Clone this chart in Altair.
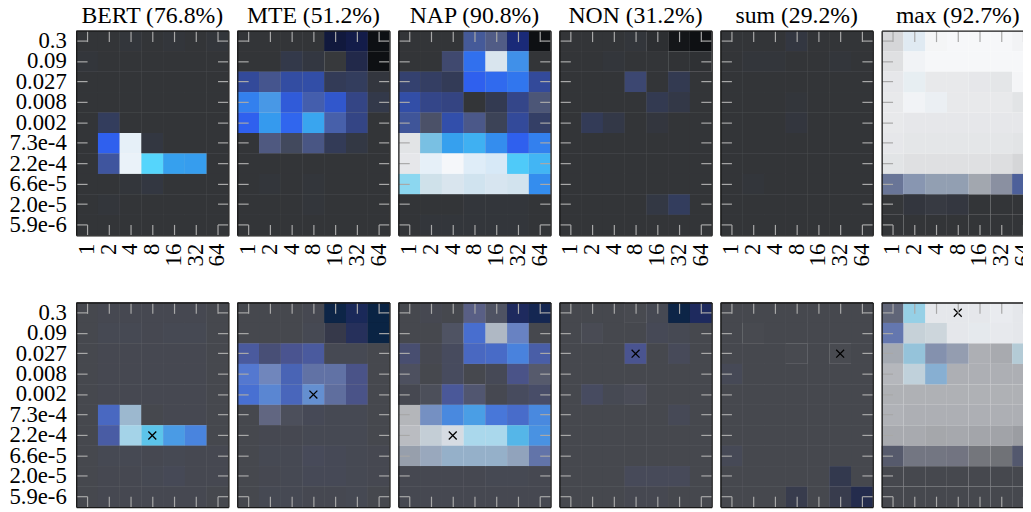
import altair as alt
import pandas as pd

X_LABELS = ["1", "2", "4", "8", "16", "32", "64"]
Y_LABELS = ["0.3", "0.09", "0.027", "0.008", "0.002", "7.3e-4", "2.2e-4", "6.6e-5", "2.0e-5", "5.9e-6"]

TITLES = ["BERT (76.8%)", "MTE (51.2%)", "NAP (90.8%)", "NON (31.2%)", "sum (29.2%)", "max (92.7%)"]

# ---------- top row: value grids (rows 0.3 -> 5.9e-6, cols 1 -> 64) ----------
BERT_T = [
    [0, 0, 0.01, 0, 0.01, 0, 0.01],
    [0.01, 0, 0, 0, 0, 0, 0],
    [0, 0, 0, 0, 0, 0, 0],
    [0, 0, 0, 0, 0, 0, 0],
    [0, 0.12, 0, 0, 0, 0, 0],
    [0, 0.5, 0.96, 0.03, 0, 0, 0],
    [0, 0.33, 0.97, 0.8, 0.7, 0.69, 0],
    [0, 0, 0.01, 0.03, 0, 0, 0],
    [0, 0.01, 0, 0, 0, 0, 0],
    [0, 0, 0, 0, 0, 0, 0],
]
MTE_T = [
    [0, 0, 0, 0, -0.25, -0.23, -0.3],
    [0, 0, 0.06, 0.03, 0.02, -0.12, -0.3],
    [0.3, 0.3, 0.32, 0.33, 0.1, 0.12, 0.02],
    [0.6, 0.66, 0.45, 0.38, 0.42, 0.25, 0.06],
    [0.5, 0.68, 0.52, 0.71, 0.38, 0.25, 0],
    [0, 0.28, 0.15, 0.28, 0.1, 0.04, 0],
    [0, 0, 0, 0, 0, 0, 0],
    [0, 0.01, 0, 0.01, 0, 0, 0],
    [0, 0, 0, 0.01, 0, 0, 0],
    [0, 0, 0, 0, 0, 0, 0],
]
NAP_T = [
    [0, 0, 0, 0.33, 0.3, -0.15, -0.3],
    [0, 0, 0.2, 0.55, 0.9, 0.64, 0],
    [0.18, 0.14, 0.1, 0.5, 0.53, 0.57, 0.3],
    [0.33, 0.26, 0.24, 0, 0.08, 0.26, 0.25],
    [0.32, 0.2, 0.34, 0.3, 0.12, 0.3, 0.15],
    [0.9, 0.75, 0.7, 0.73, 0.64, 0.5, 0.6],
    [0.92, 0.96, 1.0, 0.94, 0.92, 0.78, 0.74],
    [0.82, 0.88, 0.9, 0.89, 0.9, 0.89, 0.64],
    [0, 0, 0, 0.01, 0.01, 0.01, 0],
    [0, 0.01, 0.01, 0.01, 0.01, 0.01, 0],
]
NON_T = [
    [0, 0, 0, 0.01, -0.05, -0.25, -0.3],
    [0, 0, 0.01, 0, 0, -0.02, -0.03],
    [0, 0, 0, 0.2, 0, 0.08, 0],
    [0, 0, 0, 0, 0.08, 0.05, 0],
    [0, 0.1, 0.05, 0, 0.02, 0, 0],
    [0, 0, 0, 0, 0, 0, 0],
    [0, 0, 0, 0, 0, 0, 0],
    [0, 0, 0, 0, 0, 0, 0],
    [0, 0, 0, 0, 0.04, 0.12, 0],
    [0, 0, 0, 0, 0, 0, 0],
]
SUM_T = [
    [0, 0, 0, 0.03, 0, 0, 0],
    [0, 0.01, 0.01, 0, 0, 0.01, 0],
    [0, 0, 0, 0, 0, 0, 0],
    [0, 0, 0, 0.01, 0, 0, 0],
    [0, 0, 0, 0.02, 0, 0, 0],
    [0, 0, 0, 0, 0, 0, 0],
    [0, 0, 0, 0, 0, 0, 0],
    [0, 0.01, 0, 0, 0, 0, 0],
    [0, 0, 0, 0, 0, 0, 0],
    [0, 0, 0, 0, 0, 0, 0],
]
MAX_T = [
    [0.83, 0.93, 0.99, 1.0, 1.0, 1.0, 0.98],
    [0.88, 0.98, 1.0, 1.0, 1.0, 1.0, 1.0],
    [0.92, 0.95, 0.93, 0.93, 0.92, 0.91, 0.99],
    [0.93, 0.98, 0.96, 0.93, 0.93, 0.93, 0.9],
    [0.93, 0.92, 0.92, 0.92, 0.92, 0.92, 0.92],
    [0.92, 0.91, 0.91, 0.91, 0.91, 0.91, 0.9],
    [0.9, 0.88, 0.88, 0.88, 0.88, 0.87, 0.83],
    [0.4, 0.55, 0.58, 0.58, 0.6, 0.5, 0.35],
    [0.01, 0.02, 0.04, 0.03, 0, 0, 0],
    [0, 0, 0, 0, 0, 0, 0],
]

# ---------- bottom row ----------
BERT_B = [
    [0, 0.01, 0.01, 0.01, 0.01, 0.01, 0],
    [0, 0.02, 0.02, 0.01, 0.02, 0.02, 0],
    [0, 0.01, 0.01, 0.01, 0.01, 0.01, 0],
    [0, 0.01, 0.01, 0.01, 0.01, 0.01, 0],
    [0, 0.01, 0.01, 0.01, 0.01, 0.01, 0],
    [0, 0.42, 0.72, 0, 0.01, 0.01, 0],
    [0, 0.32, 0.86, 0.8, 0.68, 0.58, 0],
    [0, 0.02, 0.02, 0.01, 0.02, 0.01, 0.01],
    [0, 0.01, 0.01, 0.02, 0.03, 0.01, 0.01],
    [0, 0.01, 0.01, 0.01, 0.01, 0.01, 0],
]
MTE_B = [
    [0, 0, 0, 0.01, -0.28, -0.18, -0.3],
    [0, 0, 0, 0.02, -0.08, -0.12, -0.3],
    [0.3, 0.15, 0.25, 0.3, 0.02, 0.02, 0],
    [0.5, 0.5, 0.38, 0.38, 0.38, 0.22, 0],
    [0.48, 0.55, 0.4, 0.58, 0.35, 0.22, 0],
    [0, 0.25, 0.06, 0.03, 0.02, 0.02, 0],
    [0, 0.01, 0.01, 0.02, 0.02, 0.02, 0],
    [0, 0.02, 0.02, 0.04, 0.03, 0.02, 0.01],
    [0, 0.01, 0.02, 0.03, 0.03, 0.02, 0.01],
    [0, 0.02, 0.02, 0.01, 0.01, 0.02, 0],
]
NAP_B = [
    [0, 0.01, 0, 0.25, 0.1, -0.15, -0.22],
    [0, 0, 0.1, 0.47, 0.7, 0.5, 0],
    [0.13, 0.01, 0.06, 0.42, 0.44, 0.57, 0.33],
    [0.08, 0, 0.06, 0, 0.03, 0.22, 0.15],
    [0.01, 0.06, 0.28, 0.15, 0.01, 0.06, 0.1],
    [0.66, 0.55, 0.6, 0.69, 0.52, 0.45, 0.6],
    [0.7, 0.82, 0.9, 0.88, 0.88, 0.76, 0.64],
    [0.55, 0.62, 0.68, 0.68, 0.68, 0.6, 0.4],
    [0.01, 0.01, 0.01, 0.01, 0.02, 0.02, 0.01],
    [0.01, 0.01, 0.01, 0.01, 0.01, 0.01, 0.01],
]
NON_B = [
    [0, 0, 0, 0.01, 0.02, -0.28, -0.15],
    [0, 0.03, 0, 0, 0.03, 0.02, 0],
    [0, 0, 0, 0.25, 0, 0.04, 0],
    [0, 0, 0, 0, 0, 0, 0],
    [0, 0.07, 0.02, 0.04, 0, 0, 0],
    [0, 0, 0, 0, 0, 0.03, 0],
    [0, 0, 0, 0, 0, 0, 0],
    [0, 0, 0, 0, 0, 0, 0],
    [0, 0, 0, 0.04, 0.04, 0.04, 0],
    [0, 0, 0, 0.01, 0.01, 0, 0],
]
SUM_B = [
    [0, 0, 0, 0, 0, 0, 0],
    [0, 0.01, 0, 0, 0, 0, 0],
    [0, 0, 0, 0.01, 0, 0.02, 0],
    [0.03, 0, 0, 0, 0, 0, 0],
    [0, 0, 0, 0, 0, 0, 0],
    [0, 0, 0, 0, 0, 0, 0],
    [0, 0, 0, 0, 0, 0, 0],
    [0.03, 0, 0, 0, 0, 0, 0],
    [0, 0, 0, 0, 0, -0.08, 0],
    [0, 0, 0, -0.06, 0, -0.06, -0.15],
]
MAX_B = [
    [0.22, 0.84, 0.96, 0.96, 0.96, 0.98, 0.96],
    [0.42, 0.83, 0.86, 0.96, 0.97, 0.97, 0.96],
    [0.6, 0.78, 0.5, 0.55, 0.62, 0.59, 0.8],
    [0.67, 0.84, 0.7, 0.62, 0.62, 0.62, 0.62],
    [0.63, 0.63, 0.63, 0.63, 0.63, 0.63, 0.63],
    [0.64, 0.62, 0.62, 0.62, 0.62, 0.62, 0.62],
    [0.59, 0.59, 0.57, 0.58, 0.56, 0.55, 0.51],
    [0.15, 0.3, 0.3, 0.29, 0.28, 0.25, 0.15],
    [0, 0, 0, 0, 0, 0, 0],
    [0, 0, 0, 0, 0, 0, 0],
]

# saturation (how blue a cell is): default per panel + (row, col) overrides
SAT_T = [
    (1, {(6, 1): 0.8}),
    (1, {(0, 6): 0.1, (1, 4): 0, (1, 5): 0.5, (1, 6): 0, (2, 1): 0.7, (3, 1): 0.85,
         (3, 3): 0.75, (4, 4): 0.7, (5, 1): 0.5, (5, 2): 0.5, (5, 3): 0.6}),
    (1, {(0, 3): 0.7, (0, 4): 0.5, (0, 6): 0, (1, 2): 0.7, (1, 4): 0.5, (1, 5): 0.9,
         (3, 6): 0.5, (4, 0): 0.8, (4, 1): 0.4, (4, 3): 0.6, (4, 4): 0.6, (5, 0): 0,
         (5, 1): 0.6, (6, 0): 0, (7, 0): 0.7, (7, 1): 0.4, (7, 2): 0.5, (7, 3): 0.6,
         (7, 4): 0.6, (7, 5): 0.5}),
    (1, {(0, 4): 0, (0, 5): 0, (0, 6): 0, (1, 5): 0, (1, 6): 0, (2, 3): 0.8}),
    (1, {}),
    (0, {(0, 1): 0.6, (0, 2): 0.1, (1, 1): 0.3, (2, 1): 0.4, (3, 1): 0.3, (3, 2): 0.4,
         (7, 0): 0.3, (7, 1): 0.2, (7, 2): 0.15, (7, 3): 0.15, (7, 4): 0.05, (7, 5): 0.1,
         (7, 6): 0.6, (8, 1): 1, (8, 2): 0.5, (8, 3): 0.8}),
]
SAT_B = [
    (1, {(5, 2): 0.3, (6, 2): 0.7}),
    (1, {(1, 4): 0.4, (3, 0): 0.85, (3, 1): 0.5, (3, 3): 0.6, (3, 4): 0.6, (4, 1): 0.8,
         (4, 3): 0.7, (4, 4): 0.6, (5, 1): 0.4, (5, 2): 0.5}),
    (1, {(0, 3): 0.6, (0, 4): 0.5, (1, 2): 0.5, (1, 4): 0.1, (1, 5): 0.6, (3, 0): 0.5,
         (3, 3): 0, (3, 6): 0.4, (4, 1): 0.4, (4, 3): 0.6, (5, 0): 0, (5, 1): 0.5,
         (6, 0): 0, (6, 1): 0.1, (6, 2): 0.1, (6, 3): 0.8, (6, 4): 0.8, (7, 0): 0.1,
         (7, 1): 0.2, (7, 2): 0.3, (7, 3): 0.3, (7, 4): 0.3, (7, 5): 0.25, (7, 6): 0.6}),
    (1, {(0, 3): 0, (1, 1): 0.3, (4, 3): 0.5}),
    (1, {(1, 1): 0, (2, 3): 0, (2, 5): 0, (8, 5): 0.6, (9, 3): 0.6, (9, 5): 0.6, (9, 6): 0.6}),
    (0, {(0, 0): 0.3, (0, 1): 0.7, (1, 0): 0.6, (1, 1): 0.1, (1, 2): 0.1, (1, 4): 0.1,
         (2, 0): 0.05, (2, 1): 0.45, (2, 2): 0.25, (2, 3): 0.15, (2, 6): 0.2, (3, 1): 0.2,
         (3, 2): 0.45, (7, 0): 0.4, (7, 1): 0.1, (7, 2): 0.1, (7, 3): 0.1, (7, 6): 0.5}),
]

# best cell (x marker) per bottom panel
BEST_X = ["8", "8", "4", "8", "32", "8"]
BEST_Y = ["2.2e-4", "0.002", "2.2e-4", "0.027", "0.027", "0.3"]

TOP = [BERT_T, MTE_T, NAP_T, NON_T, SUM_T, MAX_T]
BOT = [BERT_B, MTE_B, NAP_B, NON_B, SUM_B, MAX_B]

GRAY_T = (["#0e1013", "#333538", "#f6f7f9"], [-0.3, 0, 1])
BLUE_T = (["#0c1020", "#1a2a78", "#333538", "#344585", "#2f60ee", "#36a0ee", "#55d5fc", "#d0e6f6", "#f5f7fa"],
          [-0.3, -0.15, 0, 0.25, 0.5, 0.7, 0.8, 0.9, 1])
GRAY_B = (["#15181c", "#46484e", "#eceef2"], [-0.3, 0, 1])
BLUE_B = (["#0a2444", "#1e2a5e", "#46484e", "#4a5490", "#4872d8", "#4aa0e6", "#5cc4ea", "#b0dcf0", "#eef2f8"],
          [-0.3, -0.15, 0, 0.25, 0.5, 0.7, 0.8, 0.9, 1])

FONT = "Liberation Serif"
TICK = dict(tickColor="#a8a8a8", tickWidth=1.2, tickSize=11, offset=-11, domain=False,
            grid=False, title=None, zindex=1)
FRAME = dict(domain=True, domainColor="#1a1a1a", domainWidth=1.3, ticks=False, labels=False,
             grid=False, title=None, zindex=2)
PW, PH = 154, 207


def make_df(grid, sat):
    default, over = sat
    rows = []
    for i, yl in enumerate(Y_LABELS):
        for j, xl in enumerate(X_LABELS):
            rows.append({"x": xl, "y": yl, "v": grid[i][j], "s": over.get((i, j), default)})
    return pd.DataFrame(rows)


def panel(grid, sat, gray, blue, show_x, show_y, title=None, best=None):
    df = make_df(grid, sat)
    xs = alt.Scale(paddingInner=0, paddingOuter=0)
    ys = alt.Scale(paddingInner=0, paddingOuter=0)
    ax_b = alt.Axis(orient="bottom", labels=show_x, labelAngle=270, labelFont=FONT,
                    labelFontSize=23, labelPadding=8, labelColor="black", **TICK)
    ax_t = alt.Axis(orient="top", labels=False, **TICK)
    ax_l = alt.Axis(orient="left", labels=show_y, labelFont=FONT, labelFontSize=23,
                    labelPadding=10, labelColor="black", **TICK)
    ax_r = alt.Axis(orient="right", labels=False, **TICK)
    base = alt.Chart(df)
    g = base.mark_rect().encode(
        x=alt.X("x:N", sort=X_LABELS, scale=xs, axis=ax_b),
        y=alt.Y("y:N", sort=Y_LABELS, scale=ys, axis=ax_l),
        color=alt.Color("v:Q", scale=alt.Scale(domain=gray[1], range=gray[0], interpolate="rgb"), legend=None),
    )
    b = base.mark_rect().encode(
        x=alt.X("x:N", sort=X_LABELS, scale=xs, axis=ax_t),
        y=alt.Y("y:N", sort=Y_LABELS, scale=ys, axis=ax_r),
        color=alt.Color("v:Q", scale=alt.Scale(domain=blue[1], range=blue[0], interpolate="rgb"), legend=None),
        opacity=alt.Opacity("s:Q", scale=None, legend=None),
    )
    # invisible layers whose axis domain lines draw the panel frame on top of the cells
    f1 = base.mark_rect(opacity=0).encode(
        x=alt.X("x:N", sort=X_LABELS, scale=xs, axis=alt.Axis(orient="bottom", **FRAME)),
        y=alt.Y("y:N", sort=Y_LABELS, scale=ys, axis=alt.Axis(orient="left", **FRAME)),
    )
    f2 = base.mark_rect(opacity=0).encode(
        x=alt.X("x:N", sort=X_LABELS, scale=xs, axis=alt.Axis(orient="top", **FRAME)),
        y=alt.Y("y:N", sort=Y_LABELS, scale=ys, axis=alt.Axis(orient="right", **FRAME)),
    )
    layers = [g, b, f1, f2]
    if best is not None:
        mdf = pd.DataFrame([{"x": best[0], "y": best[1]}])
        m = alt.Chart(mdf).mark_point(
            shape="M-1,-1L1,1M-1,1L1,-1", size=64, filled=False, stroke="black",
            strokeWidth=1.3, opacity=1,
        ).encode(
            x=alt.X("x:N", sort=X_LABELS, scale=xs, axis=None),
            y=alt.Y("y:N", sort=Y_LABELS, scale=ys, axis=None),
        )
        layers.append(m)
    props = dict(width=PW, height=PH)
    if title:
        props["title"] = alt.Title(title, font=FONT, fontSize=24, fontWeight="normal",
                                   color="black", offset=2)
    return (alt.layer(*layers)
            .resolve_axis(x="independent", y="independent")
            .resolve_scale(color="independent")
            .properties(**props))


top = alt.hconcat(*[panel(TOP[k], SAT_T[k], GRAY_T, BLUE_T, True, k == 0, title=TITLES[k])
                    for k in range(6)], spacing=7).resolve_scale(color="independent")
bot = alt.hconcat(*[panel(BOT[k], SAT_B[k], GRAY_B, BLUE_B, False, k == 0,
                          best=(BEST_X[k], BEST_Y[k])) for k in range(6)],
                  spacing=7).resolve_scale(color="independent")

# negative right padding: the last panel runs past the page edge, as in the original
chart = (alt.vconcat(top, bot, spacing=35)
         .resolve_scale(color="independent")
         .properties(padding={"top": -8, "left": 0, "right": -12, "bottom": 0}, background="white")
         .configure_view(strokeWidth=0))

chart.save("out.html", embed_options={"renderer": "svg", "actions": False})
